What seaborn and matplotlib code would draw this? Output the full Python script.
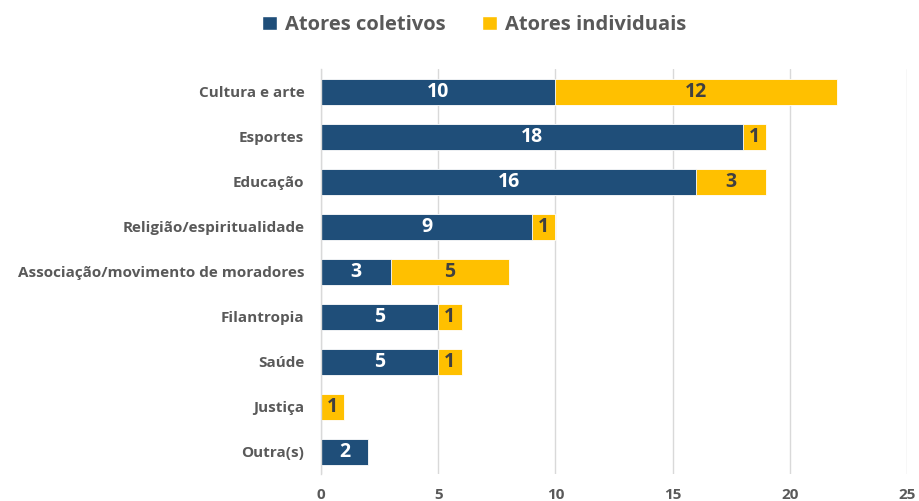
import matplotlib
matplotlib.use("Agg")
import matplotlib.pyplot as plt
import seaborn as sns
import pandas as pd
from matplotlib.patches import Patch

categories = ["Cultura e arte", "Esportes", "Educação", "Religião/espiritualidade",
              "Associação/movimento de moradores", "Filantropia", "Saúde",
              "Justiça", "Outra(s)"]
coletivos = [10, 18, 16, 9, 3, 5, 5, 0, 2]
individuais = [12, 1, 3, 1, 5, 1, 1, 1, 0]
x_ticks = [0, 5, 10, 15, 20, 25]
series_names = ["Atores coletivos", "Atores individuais"]

NAVY = "#1F4E79"
GOLD = "#FFC000"
GRAY = "#595959"

sns.set_theme(style="white")
plt.rcParams["font.family"] = ["Open Sans", "DejaVu Sans"]

df = pd.DataFrame({"categoria": categories,
                   "coletivos": coletivos,
                   "individuais": individuais})
df["total"] = df["coletivos"] + df["individuais"]

fig = plt.figure(figsize=(9.19, 5.01), dpi=100)
ax = fig.add_axes([0.3493, 0.0529, 0.6376, 0.8084])

# stacked bars: totals in gold underneath, collective share in navy on top
sns.barplot(data=df, y="categoria", x="total", color=GOLD, orient="h",
            width=0.58, ax=ax, saturation=1, edgecolor="white", linewidth=0.6)
sns.barplot(data=df, y="categoria", x="coletivos", color=NAVY, orient="h",
            width=0.58, ax=ax, saturation=1, edgecolor="white", linewidth=0.6)

for i, (c, ind) in enumerate(zip(coletivos, individuais)):
    if c > 0:
        ax.text(c / 2, i, str(c), ha="center", va="center", color="white",
                fontsize=14, fontweight="bold")
    if ind > 0:
        ax.text(c + ind / 2, i, str(ind), ha="center", va="center",
                color="#404040", fontsize=14, fontweight="bold")

ax.set_xlim(0, 25)
ax.set_ylim(len(categories) - 0.5, -0.5)
ax.set_xticks(x_ticks)
ax.set_xticklabels([str(t) for t in x_ticks])
ax.xaxis.grid(True, color="#D9D9D9", linewidth=1)
ax.set_axisbelow(True)
ax.set_xlabel("")
ax.set_ylabel("")
for side in ["top", "right", "bottom"]:
    ax.spines[side].set_visible(False)
ax.spines["left"].set_color("#D9D9D9")
ax.spines["left"].set_linewidth(1)
ax.tick_params(axis="x", length=0, pad=10, labelsize=11, labelcolor=GRAY)
ax.tick_params(axis="y", length=0, pad=12, labelsize=11, labelcolor=GRAY)
for lbl in ax.get_xticklabels() + ax.get_yticklabels():
    lbl.set_fontweight("bold")

handles = [Patch(facecolor=NAVY), Patch(facecolor=GOLD)]
fig.legend(handles, series_names, loc="center", bbox_to_anchor=(474 / 919, 1 - 25 / 501),
           ncol=2, frameon=False, handlelength=0.75, handleheight=0.75,
           handletextpad=0.4, columnspacing=1.8,
           prop={"weight": "bold", "size": 14.5})
for t in fig.legends[0].get_texts():
    t.set_color(GRAY)

fig.savefig("out.png", dpi=100)
